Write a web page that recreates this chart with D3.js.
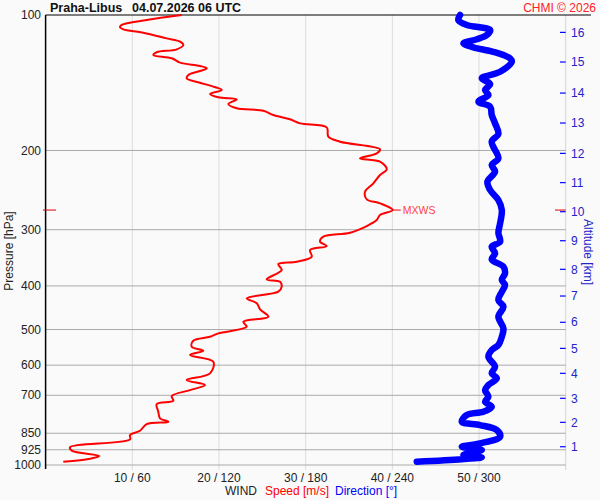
<!DOCTYPE html>
<html>
<head>
<meta charset="utf-8">
<script src="https://cdn.jsdelivr.net/npm/d3@7"></script>
<style>
  body { margin: 0; background: #fafafa; }
  text { font-family: Arial, "Liberation Sans", sans-serif; }
</style>
</head>
<body>
<svg width="600" height="500"></svg>
<script>
const svg = d3.select('svg');

// wind speed profile [hPa, m/s]
const speedPres = [100, 102.6, 105.2, 106.5, 107.6, 109.5, 112.7, 114.6, 116.6, 119.2, 121.0, 122.7, 124.8, 127.6, 129.8, 131.3, 133.2, 135.9, 138.3, 141.4, 144.3, 146.8, 149.8, 152.4, 153.9, 157.7, 161.2, 163.2, 166.8, 170.5, 174.1, 177.7, 186.4, 191.2, 198.8, 203.0, 208.2, 211.8, 220.2, 226.7, 236.6, 247.0, 256.8, 262.1, 271.3, 278.3, 285.5, 294.4, 304.6, 310.9, 319.1, 326.2, 332.9, 344.5, 353.4, 357.6, 368.8, 386.7, 391.5, 401.6, 412.0, 426.2, 437.2, 450.8, 468.2, 480.4, 492.9, 509.8, 518.7, 529.4, 546.0, 557.2, 569.6, 589.4, 625.6, 647.5, 664.3, 681.6, 702.9, 719.9, 731.8, 761.3, 787.5, 801.5, 811.0, 839.3, 857.9, 877.0, 913.0, 929.1, 955.0, 968.3, 983.3];
const speedVals = [15.7, 11.66, 8.78, 8.58, 8.97, 11.27, 13.97, 15.51, 15.89, 15.13, 12.82, 12.43, 14.55, 15.51, 17.81, 18.59, 17.81, 16.47, 16.28, 17.81, 19.35, 20.32, 18.97, 19.93, 22.05, 21.08, 22.05, 25.12, 26.27, 28.2, 29.35, 32.43, 32.62, 33.97, 38.58, 38.2, 36.28, 38.58, 39.36, 38.58, 37.81, 36.85, 37.05, 38.58, 40.05, 38.58, 38.2, 37.05, 35.12, 32.04, 31.66, 32.43, 30.51, 30.7, 28.97, 26.85, 27.24, 25.51, 27.05, 27.24, 26.85, 23.2, 24.36, 24.74, 25.7, 22.81, 23.2, 19.93, 18.97, 17.04, 16.86, 18.2, 16.66, 19.35, 18.97, 16.28, 18.39, 16.66, 14.55, 14.73, 12.82, 13.0, 13.2, 14.16, 11.66, 10.89, 9.74, 9.74, 2.82, 3.01, 6.2, 5.12, 2.04];

// wind direction profile [hPa, deg]
const dirPres = [100, 102.6, 105.2, 108.0, 110.8, 113.2, 115.6, 118.0, 120.7, 124.8, 127.0, 133.7, 138.3, 142.4, 146.8, 150.6, 155.8, 159.9, 166.8, 174.1, 183.9, 191.2, 208.2, 215.4, 222.9, 234.6, 244.9, 257.7, 271.3, 290.4, 304.6, 319.1, 327.3, 338.6, 349.2, 362.5, 375.0, 388.1, 398.1, 412.0, 430.0, 444.9, 468.2, 496.9, 518.7, 541.2, 555.3, 574.7, 604.7, 625.6, 641.9, 664.3, 681.6, 705.3, 723.4, 742.1, 761.3, 774.3, 801.5, 815.1, 836.2, 865.4, 895.2, 910.8, 926.0, 950.0, 961.3, 971.1, 983.3];
const dirVals = [286.9, 285.7, 291.5, 307.7, 305.4, 298.5, 289.2, 296.1, 309.9, 321.5, 322.7, 314.6, 301.9, 307.7, 304.2, 306.5, 299.6, 307.7, 308.8, 311.1, 313.4, 308.8, 313.4, 308.8, 311.1, 305.8, 307.7, 313.4, 315.8, 314.6, 313.4, 314.6, 308.8, 311.1, 308.8, 316.9, 318.0, 315.8, 318.0, 315.8, 313.4, 316.9, 313.4, 316.9, 315.8, 313.4, 308.8, 306.5, 311.1, 308.8, 312.3, 306.5, 304.2, 306.5, 304.2, 308.8, 303.0, 291.5, 288.1, 300.7, 312.3, 314.6, 300.7, 288.1, 301.9, 289.2, 301.9, 288.1, 256.9];

const presTicks = [100, 200, 300, 400, 500, 600, 700, 850, 925, 1000];
const speedTicks = [10, 20, 30, 40, 50];
const dirTicks = [60, 120, 180, 240, 300];
// altitude marks [km] and the pressure level they sit at
const altKm = [1, 2, 3, 4, 5, 6, 7, 8, 9, 10, 11, 12, 13, 14, 15, 16];
const altPres = [910.8, 803.9, 710.9, 625.6, 550.6, 481.8, 421.2, 367.4, 317.4, 273.6, 235.8, 203.0, 173.8, 149.1, 127.2, 109.3];

const pLeft = 45.6, pRight = 565.7, pTop = 15, pBottom = 465;

const y = d3.scaleLog().domain([100, 1000]).range([pTop, pBottom]);
const xs = d3.scaleLinear().domain([0, 60]).range([pLeft, pRight]);
const xd = d3.scaleLinear().domain([0, 360]).range([pLeft, pRight]);

// vertical grid
svg.selectAll('line.vg').data(speedTicks)
  .enter().append('line')
  .attr('x1', d => xs(d)).attr('x2', d => xs(d))
  .attr('y1', pTop).attr('y2', 470)
  .attr('stroke', '#dcdcdc');
svg.append('line')
  .attr('x1', pRight).attr('x2', pRight).attr('y1', pTop).attr('y2', 470)
  .attr('stroke', '#d4d4d4');

// horizontal grid
svg.selectAll('line.hg').data(presTicks.slice(1))
  .enter().append('line')
  .attr('x1', pLeft).attr('x2', pRight)
  .attr('y1', d => y(d)).attr('y2', d => y(d))
  .attr('stroke', '#aaa');

// frame
svg.append('line').attr('x1', pLeft).attr('x2', 591).attr('y1', pTop).attr('y2', pTop).attr('stroke', '#000');
svg.append('line').attr('x1', pLeft).attr('x2', pLeft).attr('y1', pTop).attr('y2', 469).attr('stroke', '#000').attr('stroke-width', 1.5);

// pressure labels
svg.selectAll('text.pl').data(presTicks)
  .enter().append('text')
  .attr('x', 41).attr('y', d => y(d)).attr('dy', '0.35em')
  .attr('text-anchor', 'end').attr('font-size', 12).attr('fill', '#222')
  .text(d => d);

// bottom labels
svg.selectAll('text.xl').data(speedTicks)
  .enter().append('text')
  .attr('x', d => xs(d)).attr('y', 482)
  .attr('text-anchor', 'middle').attr('font-size', 12).attr('fill', '#222')
  .text((d, i) => d + ' / ' + dirTicks[i]);

const cap = svg.append('text').attr('x', 225).attr('y', 495).attr('font-size', 12);
cap.append('tspan').attr('fill', '#222').text('WIND');
cap.append('tspan').attr('fill', '#f00').attr('dx', 8).text('Speed [m/s]');
cap.append('tspan').attr('fill', '#00f').attr('dx', 6).text('Direction [°]');

// altitude axis
svg.selectAll('line.at').data(altPres)
  .enter().append('line')
  .attr('x1', 560).attr('x2', pRight)
  .attr('y1', d => y(d)).attr('y2', d => y(d))
  .attr('stroke', '#00f').attr('stroke-width', 1.2);
svg.selectAll('text.al').data(altKm)
  .enter().append('text')
  .attr('x', 571).attr('y', (d, i) => y(altPres[i])).attr('dy', '0.35em')
  .attr('font-size', 12).attr('fill', '#22c')
  .text(d => d);

svg.append('text')
  .attr('transform', 'translate(584,252) rotate(90)')
  .attr('text-anchor', 'middle').attr('font-size', 12).attr('fill', '#22c')
  .text('Altitude [km]');
svg.append('text')
  .attr('transform', 'translate(13,251) rotate(-90)')
  .attr('text-anchor', 'middle').attr('font-size', 12).attr('fill', '#222')
  .text('Pressure [hPa]');

// titles
svg.append('text').attr('x', 50).attr('y', 12).attr('font-size', 12.5).attr('font-weight', 'bold').attr('fill', '#111').text('Praha-Libus');
svg.append('text').attr('x', 132).attr('y', 12).attr('font-size', 12.5).attr('font-weight', 'bold').attr('fill', '#111').text('04.07.2026 06 UTC');
svg.append('text').attr('x', 596).attr('y', 12).attr('text-anchor', 'end').attr('font-size', 12).attr('fill', '#f22').text('CHMI © 2026');

// direction line
const dirLine = d3.line()
  .x(d => xd(d))
  .y((d, i) => y(dirPres[i]))
  .curve(d3.curveCatmullRom.alpha(0.5));
svg.append('path').datum(dirVals)
  .attr('d', dirLine)
  .attr('fill', 'none').attr('stroke', '#00f')
  .attr('stroke-width', 6.5).attr('stroke-linejoin', 'round').attr('stroke-linecap', 'round');

// speed line
const spdLine = d3.line()
  .x(d => xs(d))
  .y((d, i) => y(speedPres[i]))
  .curve(d3.curveCatmullRom.alpha(0.5));
svg.append('path').datum(speedVals)
  .attr('d', spdLine)
  .attr('fill', 'none').attr('stroke', '#f00')
  .attr('stroke-width', 2).attr('stroke-linejoin', 'round');

// max wind
const mi = d3.maxIndex(speedVals);
const my = y(speedPres[mi]);
svg.append('line').attr('x1', 43).attr('x2', 56).attr('y1', my).attr('y2', my).attr('stroke', '#d00');
svg.append('line').attr('x1', 555).attr('x2', pRight).attr('y1', my).attr('y2', my).attr('stroke', '#d00');
svg.append('line').attr('x1', xs(speedVals[mi])).attr('x2', xs(speedVals[mi]) + 8).attr('y1', my).attr('y2', my).attr('stroke', '#f00');
svg.append('text').attr('x', xs(speedVals[mi]) + 10).attr('y', my).attr('dy', '0.35em')
  .attr('font-size', 10.5).attr('fill', '#f44').text('MXWS');
</script>
</body>
</html>
